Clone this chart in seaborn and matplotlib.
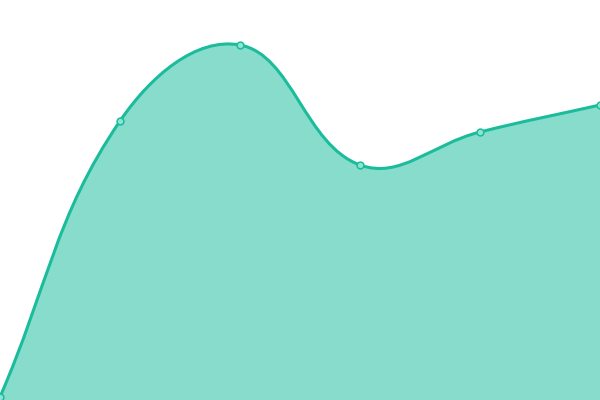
import numpy as np
import matplotlib
matplotlib.use("Agg")
import matplotlib.pyplot as plt
from matplotlib.path import Path
from matplotlib.patches import PathPatch
import seaborn as sns

sns.set_theme(style="white")

# data (value axis 0..400, six evenly spaced points)
x_idx = [0, 1, 2, 3, 4, 5]
values = [3, 279, 355, 235, 268, 295]

LINE = "#1abc9c"
FILL = "#1abc9c"
TENSION = 0.4

fig = plt.figure(figsize=(6, 4), dpi=100)
ax = fig.add_axes([0, 0, 1, 1])
ax.set_xlim(0, 5)
ax.set_ylim(0, 400)
ax.axis("off")

# chart.js-style bezier spline, control points computed in pixel space
px = np.array(x_idx, float) * 120.0
py = np.array(values, float)
n = len(px)
ctrl = []
for i in range(n):
    p0 = (px[max(i - 1, 0)], py[max(i - 1, 0)])
    p1 = (px[i], py[i])
    p2 = (px[min(i + 1, n - 1)], py[min(i + 1, n - 1)])
    d01 = np.hypot(p1[0] - p0[0], p1[1] - p0[1])
    d12 = np.hypot(p2[0] - p1[0], p2[1] - p1[1])
    tot = d01 + d12
    s01 = d01 / tot if tot else 0
    s12 = d12 / tot if tot else 0
    fa, fb = TENSION * s01, TENSION * s12
    prev_c = (p1[0] - fa * (p2[0] - p0[0]), p1[1] - fa * (p2[1] - p0[1]))
    next_c = (p1[0] + fb * (p2[0] - p0[0]), p1[1] + fb * (p2[1] - p0[1]))
    ctrl.append((prev_c, next_c))

verts = [(px[0] / 120, py[0])]
codes = [Path.MOVETO]
for i in range(1, n):
    c1 = ctrl[i - 1][1]
    c2 = ctrl[i][0]
    verts += [(c1[0] / 120, c1[1]), (c2[0] / 120, c2[1]), (px[i] / 120, py[i])]
    codes += [Path.CURVE4] * 3

line_path = Path(verts, codes)
fill_path = Path(verts + [(px[-1] / 120, 0), (px[0] / 120, 0), verts[0]],
                 codes + [Path.LINETO, Path.LINETO, Path.CLOSEPOLY])

ax.add_patch(PathPatch(fill_path, facecolor=FILL, alpha=0.52, edgecolor="none"))
ax.add_patch(PathPatch(line_path, facecolor="none", edgecolor=LINE, lw=2.2,
                       capstyle="round", joinstyle="round"))

sns.scatterplot(x=x_idx, y=values, ax=ax, s=24, color="#8ee3d2",
                edgecolor=LINE, linewidth=1.1, zorder=5, clip_on=False)

fig.savefig("out.png", dpi=100)
